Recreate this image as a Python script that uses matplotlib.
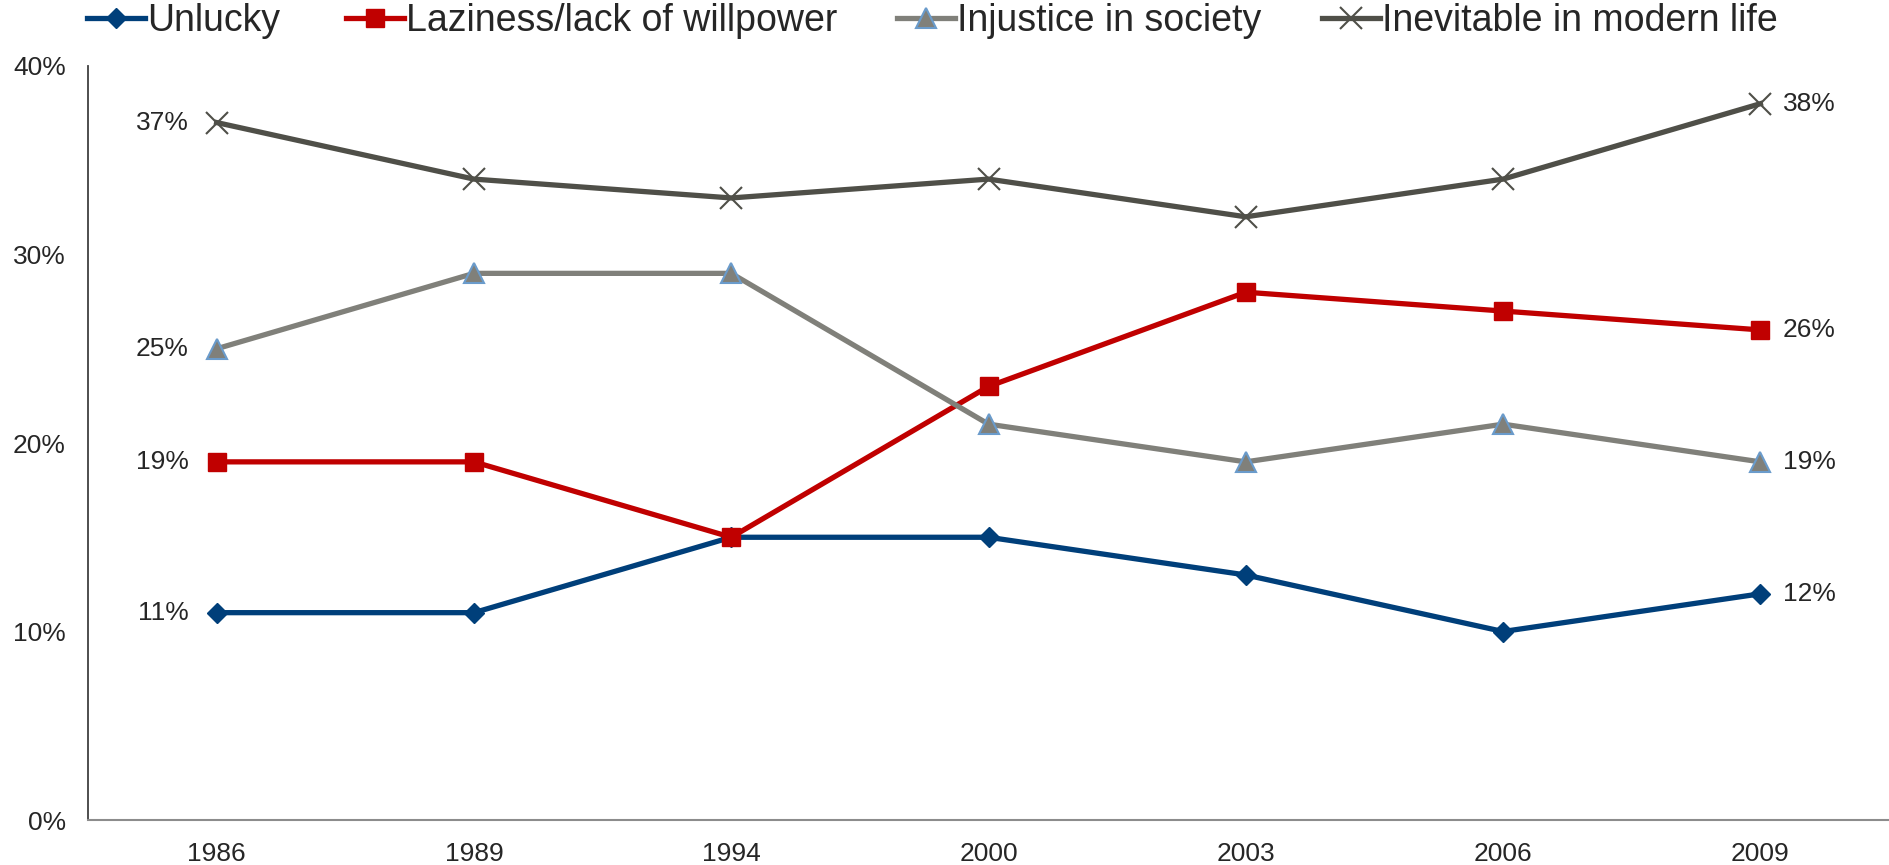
import numpy as np
import matplotlib.pyplot as plt
import matplotlib.font_manager as fm

# data (percent)
years = ['1986', '1989', '1994', '2000', '2003', '2006', '2009']
unlucky = [11, 11, 15, 15, 13, 10, 12]
laziness = [19, 19, 15, 23, 28, 27, 26]
injustice = [25, 29, 29, 21, 19, 21, 19]
inevitable = [37, 34, 33, 34, 32, 34, 38]

names = {f.name for f in fm.fontManager.ttflist}
plt.rcParams['font.family'] = ['Liberation Sans', 'DejaVu Sans']
legend_font = 'Liberation Sans Narrow' if 'Liberation Sans Narrow' in names else 'Liberation Sans'
txt = '#262626'

fig = plt.figure(figsize=(18.89, 8.65), dpi=100)
ax = fig.add_axes([0.0466, 0.052, 0.9534, 0.8717])
x = np.arange(len(years))

series = [
    ('Unlucky', unlucky, dict(color='#003F7A', marker='D', markersize=10)),
    ('Laziness/lack of willpower', laziness, dict(color='#C00000', marker='s', markersize=13)),
    ('Injustice in society', injustice, dict(color='#80807A', marker='^', markersize=14,
                                             markerfacecolor='#80807A', markeredgecolor='#6A9BCB',
                                             markeredgewidth=1.5)),
    ('Inevitable in modern life', inevitable, dict(color='#4F4F48', marker='x', markersize=16,
                                                  markeredgewidth=1.5)),
]
handles = []
for name, vals, style in series:
    h, = ax.plot(x, vals, lw=3.8, label=name, **style)
    handles.append(h)
    ax.annotate('%d%%' % vals[0], (x[0], vals[0]), xytext=(-20, 0), textcoords='offset points',
                ha='right', va='center', fontsize=19, color=txt)
    ax.annotate('%d%%' % vals[-1], (x[-1], vals[-1]), xytext=(16, 0), textcoords='offset points',
                ha='left', va='center', fontsize=19, color=txt)

ax.set_xlim(-0.5, len(years) - 0.5)
ax.set_ylim(0, 40)
ax.set_xticks(x)
ax.set_xticklabels(years)
ax.set_yticks([0, 10, 20, 30, 40])
ax.set_yticklabels(['0%', '10%', '20%', '30%', '40%'])
ax.tick_params(length=0, labelsize=19, colors=txt)
ax.tick_params(axis='x', pad=16)
ax.tick_params(axis='y', pad=16)
for s in ['top', 'right']:
    ax.spines[s].set_visible(False)
ax.spines['left'].set_color('#404040')
ax.spines['left'].set_linewidth(1.3)
ax.spines['bottom'].set_color('#8C8C8C')
ax.spines['bottom'].set_linewidth(1.5)

# one legend per entry, placed like the original's uneven spacing
legend_x = [0.046, 0.183, 0.475, 0.700]
for h, lx in zip(handles, legend_x):
    leg = fig.legend(handles=[h], loc='upper left', bbox_to_anchor=(lx, 0.996), frameon=False,
                     prop={'family': legend_font, 'size': 27}, handlelength=1.55,
                     handletextpad=0.05, borderpad=0, borderaxespad=0)
    for t in leg.get_texts():
        t.set_color(txt)

fig.savefig('out.png', dpi=100)
